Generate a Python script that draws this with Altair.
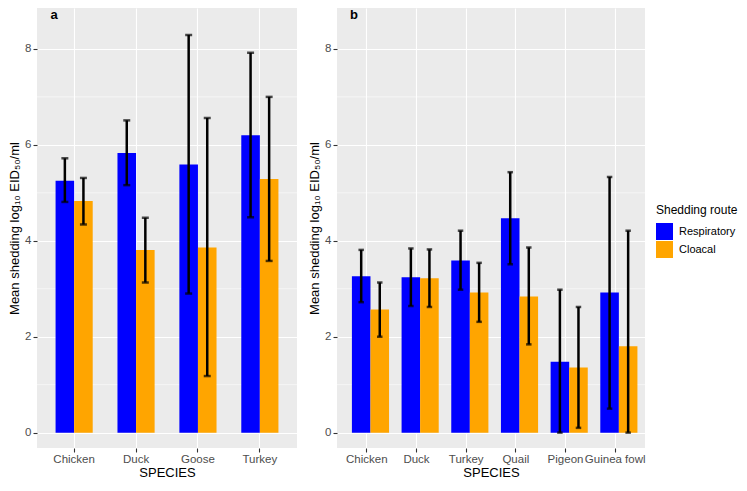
import altair as alt
import pandas as pd

routes = ["Respiratory", "Cloacal"]
route_colors = ["#0000FF", "#FFA500"]

species_a = ["Chicken", "Duck", "Goose", "Turkey"]
resp_a = [5.25, 5.83, 5.59, 6.20]
resp_a_lo = [4.81, 5.16, 2.90, 4.49]
resp_a_hi = [5.72, 6.51, 8.29, 7.92]
cloa_a = [4.83, 3.81, 3.86, 5.29]
cloa_a_lo = [4.34, 3.13, 1.18, 3.58]
cloa_a_hi = [5.31, 4.48, 6.56, 7.00]

species_b = ["Chicken", "Duck", "Turkey", "Quail", "Pigeon", "Guinea fowl"]
resp_b = [3.26, 3.24, 3.59, 4.47, 1.48, 2.92]
resp_b_lo = [2.72, 2.64, 2.98, 3.51, 0.00, 0.50]
resp_b_hi = [3.81, 3.84, 4.21, 5.43, 2.98, 5.33]
cloa_b = [2.57, 3.22, 2.92, 2.84, 1.36, 1.80]
cloa_b_lo = [2.00, 2.62, 2.31, 1.84, 0.10, 0.00]
cloa_b_hi = [3.13, 3.82, 3.54, 3.86, 2.62, 4.21]

minor_breaks = [1, 3, 5, 7]
major_breaks = [0, 2, 4, 6, 8]
y_domain = [-0.32, 8.853]
y_title = "Mean shedding log\u2081\u2080 EID\u2085\u2080/ml"
FONT = "Liberation Sans"


def make_df(species, r, rlo, rhi, c, clo, chi):
    rows = []
    for i, s in enumerate(species):
        rows.append({"species": s, "route": "Respiratory", "mean": r[i], "lo": rlo[i], "hi": rhi[i]})
        rows.append({"species": s, "route": "Cloacal", "mean": c[i], "lo": clo[i], "hi": chi[i]})
    return pd.DataFrame(rows)


def yaxis():
    return alt.Axis(values=major_breaks, title=y_title, titlePadding=3)


def panel(df, species, width, letter):
    yscale = alt.Scale(domain=y_domain, nice=False, zero=False)
    xaxis = alt.Axis(title="SPECIES", labelAngle=0, grid=True, bandPosition=0.5,
                     titlePadding=2, labelPadding=1)
    xscale = alt.Scale(paddingInner=0.4, paddingOuter=0.3)
    xenc = alt.X("species:N", sort=species, scale=xscale, axis=xaxis)
    xoff = alt.XOffset("route:N", sort=routes,
                       scale=alt.Scale(domain=routes, paddingInner=0, paddingOuter=0))

    minor = alt.Chart(pd.DataFrame({"m": minor_breaks})).mark_rule(
        color="white", strokeWidth=0.55
    ).encode(y=alt.Y("m:Q", scale=yscale, axis=yaxis()))

    base = alt.Chart(df)
    bars = base.mark_bar().encode(
        x=xenc,
        xOffset=xoff,
        y=alt.Y("mean:Q", scale=yscale, axis=yaxis()),
        color=alt.Color(
            "route:N",
            sort=routes,
            scale=alt.Scale(domain=routes, range=route_colors),
            legend=alt.Legend(title="Shedding route", orient="none",
                              legendX=619, legendY=197),
        ),
    )
    stems = base.mark_rule(color="black", strokeWidth=2.5).encode(
        x=xenc,
        xOffset=xoff,
        y=alt.Y("lo:Q", scale=yscale, axis=yaxis()),
        y2="hi:Q",
    )
    caps = base.transform_fold(["lo", "hi"], as_=["bound", "val"]).mark_tick(
        color="black", thickness=2.5, size=7 if len(species) == 4 else 5.5
    ).encode(
        x=xenc,
        xOffset=xoff,
        y=alt.Y("val:Q", scale=yscale, axis=yaxis()),
    )
    label = alt.Chart(pd.DataFrame({"t": [letter]})).mark_text(
        font=FONT, fontWeight="bold", fontSize=13, align="center", baseline="middle",
        color="black"
    ).encode(text="t:N", x=alt.value(17), y=alt.value(7))

    return alt.layer(minor, bars, stems, caps, label).properties(width=width, height=440)


df_a = make_df(species_a, resp_a, resp_a_lo, resp_a_hi, cloa_a, cloa_a_lo, cloa_a_hi)
df_b = make_df(species_b, resp_b, resp_b_lo, resp_b_hi, cloa_b, cloa_b_lo, cloa_b_hi)

chart = alt.hconcat(
    panel(df_a, species_a, 260, "a"),
    panel(df_b, species_b, 308, "b"),
    spacing=10,
).properties(padding=0).configure_view(
    fill="#EBEBEB", stroke=None
).configure_axis(
    gridColor="white", gridWidth=1.1, domain=False, tickColor="#333333",
    tickSize=4, tickWidth=1.1, labelColor="#4D4D4D", labelFont=FONT,
    labelFontSize=11.5, titleFont=FONT, titleFontSize=13,
    titleFontWeight="normal", titleColor="black", labelPadding=2,
).configure_legend(
    titleFont=FONT, labelFont=FONT, titleFontSize=12, labelFontSize=11,
    titleFontWeight="normal", titleColor="black", labelColor="black",
    symbolType="square", symbolSize=289, symbolStrokeWidth=0, symbolOpacity=1,
    rowPadding=1, labelOffset=6, titlePadding=6,
)

chart.save("out.html", embed_options={"renderer": "svg", "actions": False})
